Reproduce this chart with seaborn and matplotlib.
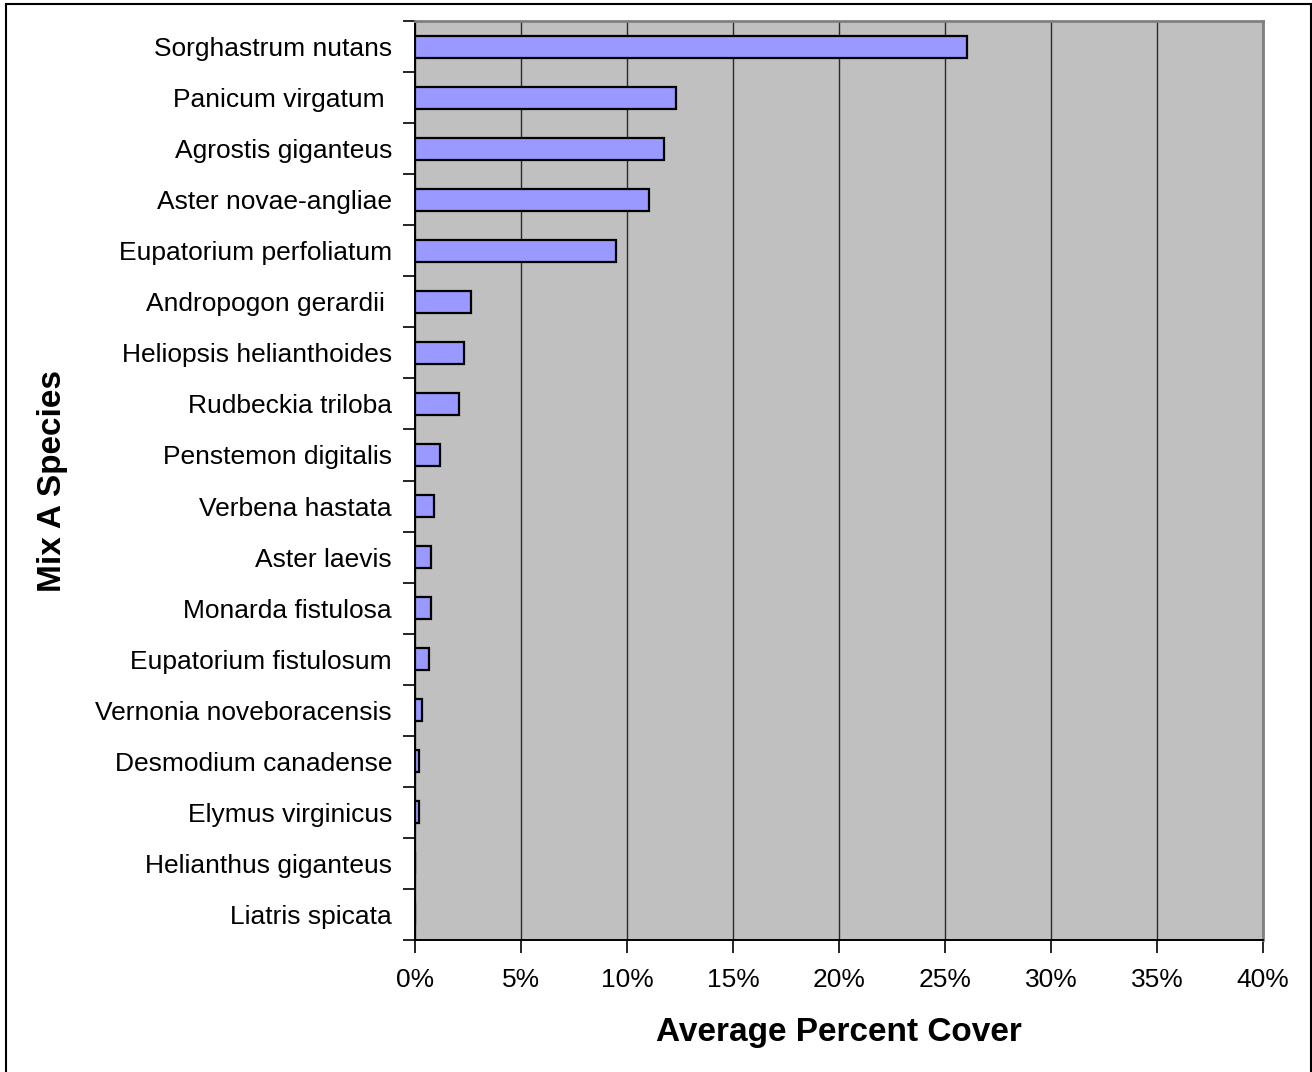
import matplotlib
matplotlib.use("Agg")
import matplotlib.pyplot as plt
from matplotlib.ticker import PercentFormatter, FixedLocator
from matplotlib.patches import Rectangle
import seaborn as sns
import pandas as pd
import numpy as np

species = [
    "Sorghastrum nutans", "Panicum virgatum ", "Agrostis giganteus",
    "Aster novae-angliae", "Eupatorium perfoliatum", "Andropogon gerardii ",
    "Heliopsis helianthoides", "Rudbeckia triloba", "Penstemon digitalis",
    "Verbena hastata", "Aster laevis", "Monarda fistulosa",
    "Eupatorium fistulosum", "Vernonia noveboracensis", "Desmodium canadense",
    "Elymus virginicus", "Helianthus giganteus", "Liatris spicata",
]
cover = [
    0.2604, 0.1231, 0.1174, 0.1102, 0.0948, 0.0263,
    0.0231, 0.0206, 0.0116, 0.0091, 0.0075, 0.0077,
    0.0068, 0.0034, 0.0019, 0.0019, 0.0, 0.0,
]
x_ticks = [0.0, 0.05, 0.10, 0.15, 0.20, 0.25, 0.30, 0.35, 0.40]

df = pd.DataFrame({"species": species, "cover": cover})

sns.set_theme(style="white")
plt.rcParams["font.family"] = ["Liberation Sans", "DejaVu Sans"]

fig = plt.figure(figsize=(13.12, 10.72), dpi=100)
ax = fig.add_axes([415 / 1312, 1 - 940 / 1072, 848 / 1312, 919 / 1072])
ax.set_facecolor("#C0C0C0")

sns.barplot(data=df, x="cover", y="species", orient="h", ax=ax,
            color="#9999FF", saturation=1, width=0.43,
            edgecolor="black", linewidth=1.6, zorder=3)

ax.set_xlim(0, 0.40)
ax.set_ylim(len(species) - 0.5, -0.5)
ax.xaxis.set_major_locator(FixedLocator(x_ticks))
ax.xaxis.set_major_formatter(PercentFormatter(1.0, decimals=0))
ax.grid(axis="x", color="#2a2a2a", linewidth=1.0, zorder=1)
ax.set_axisbelow(True)

# category boundaries carry the y tick marks
ax.set_yticks(np.arange(-0.5, len(species), 1.0), minor=True)
ax.tick_params(axis="y", which="minor", left=True, length=9, width=1.2,
               color="black", direction="out")
ax.tick_params(axis="y", which="major", left=False, length=0, pad=16.5,
               labelsize=19, labelcolor="black")
ax.tick_params(axis="x", which="major", bottom=True, length=9, width=1.2,
               color="black", direction="out", pad=11, labelsize=19,
               labelcolor="black")

for side in ("left", "bottom"):
    ax.spines[side].set_color("black")
    ax.spines[side].set_linewidth(1.4)
for side in ("top", "right"):
    ax.spines[side].set_color("#808080")
    ax.spines[side].set_linewidth(2.0)

ax.set_xlabel("Average Percent Cover", fontsize=24, fontweight="bold",
              color="black", labelpad=18)
ax.set_ylabel("Mix A Species", fontsize=24, fontweight="bold",
              color="black", labelpad=18)
ax.yaxis.set_label_coords(-(415 - 68) / 848, 0.5)

# outer chart frame
fig.patches.append(Rectangle((6 / 1312, -6 / 1072), 1305 / 1312, 1074 / 1072,
                             transform=fig.transFigure, fill=False,
                             edgecolor="black", linewidth=1.5))

fig.savefig("out.png", dpi=100, facecolor="white")
